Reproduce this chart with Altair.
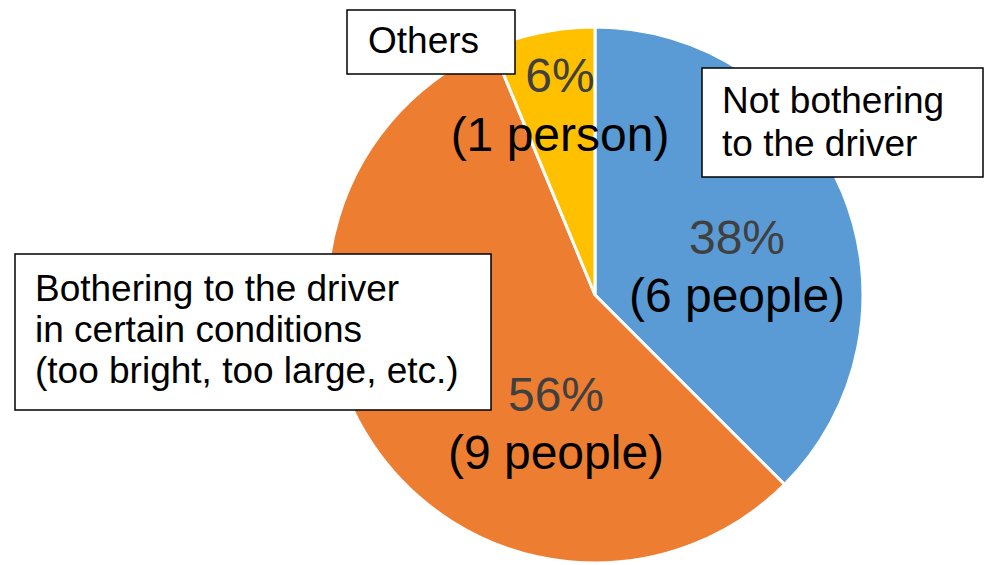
import altair as alt
import pandas as pd

# ---- data ----
categories = ["Not bothering to the driver",
              "Bothering to the driver in certain conditions (too bright, too large, etc.)",
              "Others"]
people = [6, 9, 1]
pct_labels = ["38%", "56%", "6%"]
count_labels = ["(6 people)", "(9 people)", "(1 person)"]
colors = ["#5B9BD5", "#ED7D31", "#FFC000"]

# category label box texts (multi-line)
box_texts = [["Not bothering", "to the driver"],
             ["Bothering to the driver", "in certain conditions", "(too bright, too large, etc.)"],
             ["Others"]]

# ---- layout (page pixel coords, converted to plot coords) ----
OFF = 8
W, H = 976, 560
CX, CY, R = 595, 295, 268

pct_pos = [(737, 240), (556, 397), (560, 78)]
cnt_pos = [(737, 298), (556, 455), (560, 137)]
box_rects = [(702, 68, 983, 177), (15, 254, 491, 410), (347, 10, 515, 74)]
box_text_pos = [(722, 102), (35, 290), (368, 42)]
line_h = [43, 41, 0]

pie_df = pd.DataFrame({"category": categories, "people": people, "order": [0, 1, 2]})

xs = alt.Scale(domain=[0, W], range=[0, W])
ys = alt.Scale(domain=[0, H], range=[0, H])

pie = alt.Chart(pie_df).mark_arc(
    radius=R, x=CX - OFF, y=CY - OFF, stroke="white", strokeWidth=3
).encode(
    theta=alt.Theta("people:Q", stack=True),
    color=alt.Color("category:N", scale=alt.Scale(domain=categories, range=colors), legend=None),
    order=alt.Order("order:Q"),
)

lab_df = pd.DataFrame({
    "pct": pct_labels, "cnt": count_labels,
    "px": [p[0] - OFF for p in pct_pos], "py": [p[1] - OFF for p in pct_pos],
    "cx": [p[0] - OFF for p in cnt_pos], "cy": [p[1] - OFF for p in cnt_pos],
})

pct_text = alt.Chart(lab_df).mark_text(
    font="Liberation Sans", fontSize=48, color="#404040", align="center", baseline="middle"
).encode(
    x=alt.X("px:Q", scale=xs, axis=None),
    y=alt.Y("py:Q", scale=ys, axis=None),
    text="pct:N",
)
cnt_text = alt.Chart(lab_df).mark_text(
    font="Liberation Sans", fontSize=48, color="#000000", align="center", baseline="middle"
).encode(
    x=alt.X("cx:Q", scale=xs, axis=None),
    y=alt.Y("cy:Q", scale=ys, axis=None),
    text="cnt:N",
)

box_df = pd.DataFrame({
    "x1": [b[0] - OFF for b in box_rects], "y1": [b[1] - OFF for b in box_rects],
    "x2": [b[2] - OFF for b in box_rects], "y2": [b[3] - OFF for b in box_rects],
})
boxes = alt.Chart(box_df).mark_rect(
    fill="white", stroke="black", strokeWidth=1.5
).encode(
    x=alt.X("x1:Q", scale=xs, axis=None), x2="x2:Q",
    y=alt.Y("y1:Q", scale=ys, axis=None), y2="y2:Q",
)

rows = []
for i, lines in enumerate(box_texts):
    for j, ln in enumerate(lines):
        rows.append({"t": ln, "tx": box_text_pos[i][0] - OFF,
                     "ty": box_text_pos[i][1] + j * line_h[i] - OFF})
bt_df = pd.DataFrame(rows)
box_text = alt.Chart(bt_df).mark_text(
    font="Liberation Sans", fontSize=37, color="black", align="left", baseline="middle"
).encode(
    x=alt.X("tx:Q", scale=xs, axis=None),
    y=alt.Y("ty:Q", scale=ys, axis=None),
    text="t:N",
)

chart = alt.layer(pie, pct_text, cnt_text, boxes, box_text).properties(
    width=W, height=H, autosize=alt.AutoSizeParams(type="none"), padding=0
).configure_view(stroke=None)

chart.save("out.html", embed_options={"renderer": "svg", "actions": False})
